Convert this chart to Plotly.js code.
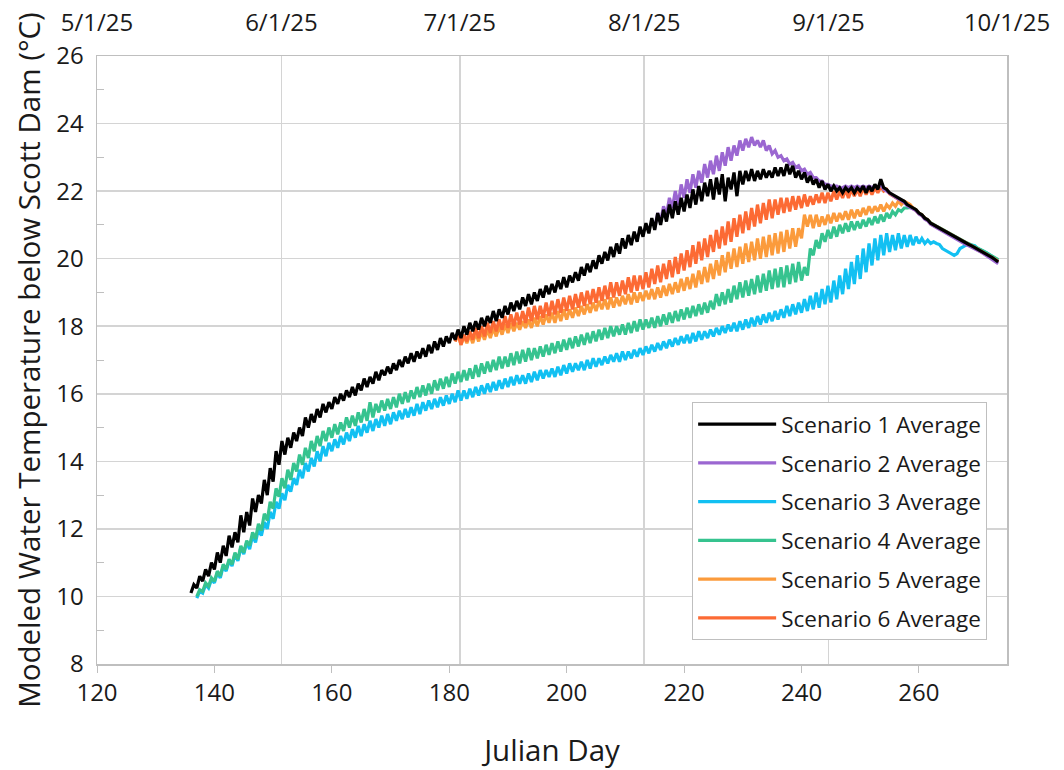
<!DOCTYPE html>
<html><head><meta charset="utf-8">
<script src="https://cdn.plot.ly/plotly-3.0.1.min.js"></script>
<style>html,body{margin:0;padding:0;background:#fff}#chart{width:1064px;height:770px}</style>
</head><body><div id="chart"></div>
<script>
// Half-day samples (trough/peak pairs), starting at the given Julian day
var names = ["Scenario 1 Average","Scenario 2 Average","Scenario 3 Average","Scenario 4 Average","Scenario 5 Average","Scenario 6 Average"];
var colors = ["#000000","#9b67d1","#12c0f2","#36c38f","#fb9b3c","#fc6a34"];
var startDay = [136, 215, 137, 137, 181, 181];
var topTickDays = [121,152,182,213,244,274];
var topTickText = ["5/1/25","6/1/25","7/1/25","8/1/25","9/1/25","10/1/25"];

var s1 = [10.10,10.35,10.25,10.6,10.45,10.8,10.6,11.0,10.8,11.3,
11.0,11.5,11.2,11.8,11.45,11.9,11.6,12.4,11.9,12.5,
12.1,12.9,12.5,13.0,12.75,13.45,13.0,13.8,13.4,14.3,
13.9,14.6,14.2,14.7,14.4,14.85,14.6,15.0,14.75,15.3,
15.0,15.4,15.15,15.55,15.3,15.7,15.45,15.75,15.55,15.9,
15.7,16.0,15.8,16.1,15.9,16.2,15.95,16.3,16.1,16.45,
16.2,16.5,16.3,16.65,16.4,16.7,16.55,16.8,16.6,16.9,
16.7,17.0,16.8,17.1,16.9,17.2,16.95,17.25,17.05,17.35,
17.1,17.45,17.2,17.55,17.3,17.65,17.4,17.7,17.5,17.8,
17.6,17.9,17.65,18.0,17.75,18.1,17.85,18.15,17.9,18.25,
18.0,18.3,18.1,18.45,18.15,18.5,18.25,18.6,18.35,18.7,
18.45,18.75,18.5,18.85,18.6,18.95,18.65,19.0,18.75,19.1,
18.85,19.2,18.95,19.25,19.0,19.35,19.1,19.45,19.15,19.5,
19.3,19.6,19.35,19.75,19.5,19.85,19.6,19.95,19.7,20.1,
19.85,20.2,19.95,20.35,20.05,20.45,20.15,20.6,20.3,20.7,
20.4,20.8,20.5,20.95,20.65,21.05,20.75,21.2,20.85,21.35,
21.0,21.45,21.1,21.6,21.2,21.7,21.3,21.8,21.4,21.9,
21.5,22.05,21.6,22.15,21.7,22.25,21.85,22.35,21.75,22.4,
21.9,22.5,21.7,22.4,22.05,22.55,21.85,22.6,22.2,22.6,
22.3,22.65,22.3,22.6,22.35,22.65,22.4,22.6,22.4,22.7,
22.45,22.7,22.45,22.8,22.5,22.75,22.4,22.6,22.35,22.55,
22.25,22.45,22.2,22.35,22.1,22.3,22.05,22.2,22.0,22.15,
22.0,22.1,21.95,22.1,22.0,22.1,21.95,22.1,22.0,22.15,
21.95,22.15,22.0,22.2,22.05,22.35,22.1,22.05,21.95,21.9,
21.85,21.8,21.75,21.7,21.6,21.55,21.5,21.45,21.35,21.3,
21.2,21.15,21.05,21.0,20.95,20.9,20.85,20.8,20.75,20.7,
20.65,20.6,20.55,20.5,20.45,20.42,20.38,20.33,20.3,20.25,
20.2,20.15,20.08,20.03,19.97,19.9];

var s2 = [20.9,21.35,21.1,21.55,21.3,21.8,21.5,22.0,21.6,22.2,21.8,22.35,
21.95,22.5,22.1,22.6,22.25,22.8,22.4,22.9,22.5,23.05,
22.6,23.15,22.75,23.3,22.9,23.35,23.05,23.5,23.2,23.55,
23.3,23.6,23.35,23.5,23.3,23.5,23.2,23.35,23.1,23.2,
23.0,23.05,22.9,22.95,22.8,22.85,22.7,22.75,22.6,22.65,
22.5,22.55,22.4,22.4,22.3,22.3,22.2,22.2,22.15,22.15,
22.15,22.1,22.1,22.15,22.1,22.15,22.1,22.15,22.1,22.15,
22.1,22.15,22.1,22.15,22.1,22.2,22.05,22.0,21.95,21.88,
21.82,21.77,21.72,21.67,21.57,21.52,21.47,21.42,21.32,21.27,
21.17,21.12,21.02,20.97,20.92,20.85,20.8,20.75,20.7,20.65,
20.6,20.55,20.5,20.46,20.42,20.38,20.34,20.28,20.25,20.2,
20.15,20.1,20.03,19.97,19.92,19.85];

var s3 = [9.95,10.15,10.1,10.35,10.25,10.5,10.4,10.7,10.55,10.9,
10.75,11.05,10.9,11.25,11.05,11.45,11.25,11.6,11.4,11.8,
11.6,12.0,11.8,12.2,12.0,12.5,12.3,12.8,12.6,13.05,
12.85,13.3,13.1,13.5,13.3,13.75,13.5,13.95,13.7,14.1,
13.85,14.3,14.0,14.45,14.15,14.55,14.3,14.65,14.4,14.75,
14.5,14.85,14.6,14.95,14.7,15.05,14.75,15.1,14.85,15.2,
14.9,15.25,15.0,15.35,15.05,15.4,15.1,15.45,15.2,15.5,
15.25,15.55,15.3,15.6,15.35,15.7,15.4,15.75,15.5,15.8,
15.55,15.85,15.6,15.9,15.65,15.95,15.7,16.0,15.75,16.1,
15.8,16.1,15.85,16.15,15.9,16.2,15.95,16.25,16.0,16.3,
16.05,16.35,16.1,16.4,16.15,16.45,16.2,16.5,16.25,16.55,
16.3,16.55,16.3,16.6,16.35,16.65,16.4,16.7,16.45,16.7,
16.5,16.75,16.5,16.8,16.55,16.85,16.6,16.9,16.65,16.9,
16.7,16.95,16.7,17.0,16.75,17.05,16.8,17.05,16.85,17.1,
16.9,17.15,16.95,17.2,16.95,17.25,17.0,17.25,17.05,17.3,
17.1,17.35,17.15,17.4,17.2,17.45,17.25,17.5,17.3,17.55,
17.35,17.6,17.4,17.65,17.45,17.7,17.5,17.75,17.5,17.8,
17.55,17.85,17.6,17.85,17.65,17.9,17.7,17.95,17.75,18.0,
17.8,18.05,17.85,18.1,17.85,18.15,17.9,18.2,17.95,18.25,
18.0,18.3,18.05,18.35,18.1,18.4,18.15,18.45,18.2,18.5,
18.25,18.6,18.3,18.65,18.35,18.7,18.4,18.8,18.45,18.9,
18.5,19.0,18.55,19.1,18.65,19.2,18.7,19.35,18.8,19.5,
18.95,19.7,19.1,19.9,19.25,20.1,19.4,20.3,19.6,20.45,
19.8,20.6,19.95,20.7,20.1,20.75,20.2,20.7,20.25,20.75,
20.3,20.7,20.35,20.7,20.4,20.65,20.45,20.6,20.45,20.55,
20.45,20.5,20.45,20.42,20.3,20.25,20.2,20.15,20.1,20.15,
20.3,20.35,20.4,20.42,20.4,20.38,20.3,20.27,20.22,20.18,
20.12,20.07,20.02,19.95];

var s4 = [10.0,10.2,10.15,10.4,10.3,10.55,10.45,10.75,10.6,10.95,
10.8,11.1,10.95,11.3,11.1,11.5,11.3,11.65,11.5,11.9,
11.7,12.15,11.95,12.45,12.25,12.8,12.6,13.2,12.95,13.5,
13.2,13.75,13.45,13.95,13.7,14.2,13.9,14.4,14.1,14.6,
14.3,14.75,14.45,14.9,14.6,15.0,14.7,15.1,14.8,15.15,
14.9,15.3,15.0,15.35,15.05,15.45,15.15,15.55,15.2,15.75,
15.3,15.7,15.45,15.8,15.5,15.85,15.55,15.9,15.6,16.0,
15.7,16.05,15.75,16.1,15.85,16.2,15.9,16.25,15.95,16.3,
16.0,16.4,16.1,16.45,16.15,16.5,16.2,16.6,16.3,16.65,
16.35,16.7,16.4,16.75,16.45,16.85,16.5,16.9,16.6,16.95,
16.65,17.0,16.7,17.1,16.75,17.1,16.8,17.2,16.85,17.25,
16.9,17.3,16.95,17.35,17.0,17.35,17.05,17.4,17.1,17.45,
17.15,17.5,17.2,17.55,17.25,17.6,17.3,17.65,17.35,17.7,
17.4,17.75,17.45,17.8,17.5,17.85,17.55,17.9,17.6,17.95,
17.65,18.0,17.7,18.0,17.75,18.05,17.75,18.1,17.8,18.15,
17.85,18.2,17.9,18.2,17.95,18.25,17.95,18.3,18.0,18.35,
18.05,18.4,18.1,18.45,18.15,18.5,18.2,18.55,18.25,18.6,
18.3,18.65,18.35,18.7,18.4,18.75,18.5,18.95,18.6,19.0,
18.65,19.1,18.7,19.2,18.8,19.3,18.85,19.35,18.9,19.4,
18.95,19.5,19.0,19.55,19.05,19.65,19.1,19.7,19.15,19.75,
19.15,19.8,19.25,19.85,19.3,19.9,19.35,19.75,19.5,20.3,
20.1,20.55,20.3,20.75,20.5,20.85,20.6,20.95,20.65,21.0,
20.75,21.05,20.8,21.1,20.85,21.1,20.9,21.15,20.95,21.2,
21.0,21.25,21.05,21.3,21.1,21.35,21.2,21.4,21.3,21.45,
21.4,21.5,21.5,21.52,21.5,21.45,21.35,21.3,21.2,21.15,
21.06,21.01,20.96,20.91,20.86,20.81,20.76,20.71,20.66,20.61,
20.56,20.52,20.48,20.44,20.4,20.35,20.32,20.27,20.22,20.17,
20.12,20.07,20.02,19.97];

var s5 = [17.55,17.75,17.45,17.7,17.5,17.75,17.5,17.8,17.55,17.85,
17.6,17.9,17.65,17.95,17.7,18.0,17.75,18.05,17.8,18.1,
17.85,18.1,17.9,18.15,17.95,18.2,17.95,18.25,18.0,18.3,
18.05,18.35,18.1,18.4,18.1,18.45,18.15,18.5,18.2,18.5,
18.25,18.55,18.3,18.6,18.35,18.65,18.4,18.7,18.45,18.75,
18.5,18.8,18.5,18.85,18.55,18.85,18.6,18.9,18.65,18.95,
18.65,19.0,18.7,19.0,18.75,19.05,18.8,19.1,18.8,19.15,
18.85,19.2,18.9,19.25,18.95,19.3,19.0,19.4,19.05,19.45,
19.1,19.55,19.15,19.65,19.25,19.75,19.3,19.85,19.4,19.95,
19.5,20.1,19.6,20.2,19.7,20.3,19.75,20.35,19.85,20.45,
19.9,20.5,19.95,20.6,20.0,20.65,20.05,20.7,20.1,20.75,
20.15,20.8,20.2,20.85,20.3,20.9,20.35,20.9,20.6,21.3,
20.95,21.3,20.9,21.3,20.95,21.25,21.0,21.3,21.05,21.35,
21.1,21.35,21.15,21.4,21.15,21.45,21.2,21.45,21.25,21.5,
21.3,21.55,21.35,21.55,21.4,21.6,21.4,21.6,21.5,21.65,
21.55,21.7,21.6,21.7,21.65,21.6,21.5,21.45,21.35,21.3,
21.2,21.15,21.05,21.0,20.95,20.9,20.85,20.8,20.75,20.7,
20.65,20.6,20.55,20.5,20.46,20.42,20.38,20.33,20.3,20.25,
20.2,20.15,20.08,20.03,19.98,19.92];

var s6 = [17.55,17.8,17.45,17.75,17.55,17.85,17.6,17.95,17.65,18.0,
17.7,18.1,17.8,18.15,17.85,18.2,17.9,18.3,17.95,18.35,
18.0,18.4,18.05,18.45,18.1,18.55,18.15,18.6,18.2,18.6,
18.25,18.7,18.3,18.75,18.35,18.8,18.4,18.85,18.45,18.9,
18.5,18.95,18.55,19.0,18.6,19.05,18.65,19.1,18.7,19.15,
18.75,19.2,18.8,19.3,18.85,19.3,18.9,19.35,18.95,19.45,
19.0,19.5,19.05,19.5,19.1,19.6,19.15,19.7,19.25,19.8,
19.3,19.85,19.4,19.95,19.45,20.05,19.55,20.15,19.65,20.25,
19.75,20.4,19.85,20.5,19.95,20.6,20.05,20.7,20.2,20.85,
20.3,20.95,20.4,21.1,20.5,21.2,20.65,21.3,20.75,21.4,
20.85,21.5,20.95,21.6,21.05,21.65,21.15,21.75,21.2,21.75,
21.3,21.8,21.35,21.8,21.4,21.85,21.45,21.85,21.5,21.9,
21.55,21.85,21.6,21.9,21.65,21.95,21.65,21.95,21.7,22.0,
21.75,22.0,21.8,22.05,21.8,22.05,21.85,22.05,21.85,22.1,
21.9,22.1,21.9,22.1,21.95,22.15,22.0,22.05,21.92,21.87,
21.82,21.77,21.72,21.67,21.6,21.55,21.48,21.43,21.33,21.28,
21.18,21.13,21.03,20.98,20.93,20.88,20.83,20.78,20.73,20.68,
20.63,20.58,20.53,20.48,20.44,20.4,20.36,20.31,20.28,20.23,
20.18,20.13,20.06,20.01,19.95,19.9];

var series = [s1, s2, s3, s4, s5, s6];
var drawOrder = [2, 3, 4, 5, 1, 0]; // bottom to top
var traces = [];
drawOrder.forEach(function (k) {
  var ys = series[k];
  var xs = ys.map(function (_, i) { return startDay[k] + i * 0.5; });
  traces.push({
    type: 'scatter', mode: 'lines', x: xs, y: ys, name: names[k],
    legendrank: k + 1, legendgroup: 'g' + k,
    line: {color: colors[k], width: 3.2}, xaxis: 'x', yaxis: 'y'
  });
});
// invisible trace to activate the top date axis
traces.push({type: 'scatter', mode: 'lines', x: [topTickDays[0], topTickDays[5]], y: [8, 8],
  xaxis: 'x2', yaxis: 'y', showlegend: false, hoverinfo: 'skip', line: {width: 0}, opacity: 0});

var F = 'Open Sans, Noto Sans, sans-serif';
var layout = {
  width: 1064, height: 770,
  margin: {l: 97, r: 57, t: 56, b: 106},
  paper_bgcolor: '#ffffff', plot_bgcolor: '#ffffff',
  font: {family: F, color: '#1a1a1a'},
  showlegend: true,
  legend: {
    x: 0.654, y: 0.431, xanchor: 'left', yanchor: 'top',
    bgcolor: '#ffffff', bordercolor: '#bfbfbf', borderwidth: 1,
    font: {family: F, size: 22.5, color: '#1a1a1a'},
    traceorder: 'grouped', tracegroupgap: 6.5, itemwidth: 78
  },
  xaxis: {
    range: [120, 275], tickvals: [120,140,160,180,200,220,240,260],
    ticks: 'outside', ticklen: 7, tickcolor: '#bfbfbf', showgrid: false, zeroline: false,
    showline: true, linecolor: '#bfbfbf', linewidth: 1.5, mirror: false,
    tickfont: {family: F, size: 24, color: '#1a1a1a'},
    title: {text: 'Julian Day', font: {family: F, size: 29.5, color: '#1a1a1a'}, standoff: 33},
    automargin: false
  },
  xaxis2: {
    overlaying: 'x', side: 'top', range: [121, 274],
    tickvals: topTickDays, ticktext: topTickText,
    showgrid: true, gridcolor: '#d4d4d4', gridwidth: 1.5, ticks: '', zeroline: false,
    showline: true, linecolor: '#bfbfbf', linewidth: 1.5, ticklabelstandoff: 14,
    tickfont: {family: F, size: 24, color: '#1a1a1a'}, automargin: false
  },
  yaxis: {
    range: [8, 26], dtick: 2, tick0: 8,
    showgrid: true, gridcolor: '#d4d4d4', gridwidth: 1.5, zeroline: false,
    ticks: '', showline: true, linecolor: '#bfbfbf', linewidth: 1.5, mirror: true,
    minor: {dtick: 1, tick0: 9, ticks: 'inside', ticklen: 7, tickcolor: '#bfbfbf', showgrid: false},
    ticklabelstandoff: 7,
    tickfont: {family: F, size: 24, color: '#1a1a1a'},
    title: {text: 'Modeled Water Temperature below Scott Dam (°C)', font: {family: F, size: 29.5, color: '#1a1a1a'}, standoff: 7},
    automargin: false
  }
};
Plotly.newPlot('chart', traces, layout, {displayModeBar: false, staticPlot: true});
</script></body></html>
